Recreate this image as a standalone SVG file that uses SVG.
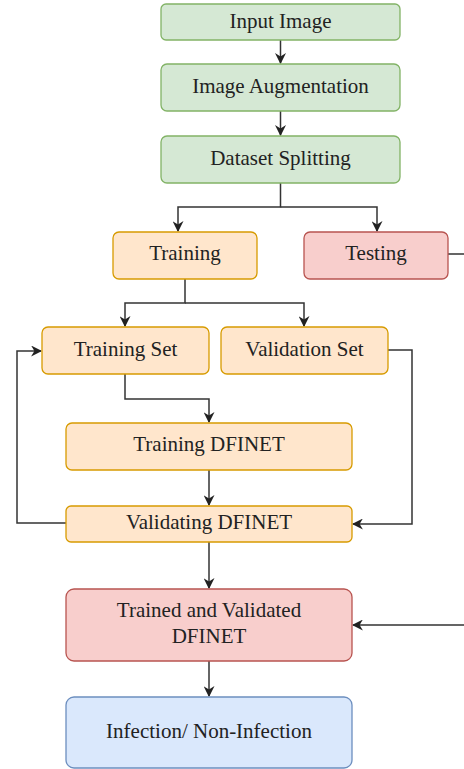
<svg xmlns="http://www.w3.org/2000/svg" width="464" height="769" viewBox="0 0 464 769">
<style>
.n rect{stroke-width:1.3}
.g rect{fill:#d5e8d4;stroke:#82b366}
.o rect{fill:#ffe6cc;stroke:#d79b00}
.r rect{fill:#f8cecc;stroke:#b85450}
.b rect{fill:#dae8fc;stroke:#6c8ebf}
text{font-family:"Liberation Serif","Times New Roman",serif;font-size:21px;fill:#222;text-anchor:middle}
#connectors path{fill:none;stroke:#333;stroke-width:1.5}
</style>
<defs>
<marker id="ah" viewBox="0 0 10 10" refX="9" refY="5" markerWidth="11" markerHeight="11" markerUnits="userSpaceOnUse" orient="auto">
<path d="M0,0 L10,5 L0,10 L3,5 z" fill="#222"/>
</marker>
</defs>
<rect width="464" height="769" fill="#fff"/>
<g id="connectors">
<path d="M280.5,40 V63" marker-end="url(#ah)"/>
<path d="M280.5,111 V135" marker-end="url(#ah)"/>
<path d="M280.5,183 V207 H178 V231" marker-end="url(#ah)"/>
<path d="M280.5,207 H377 V231" marker-end="url(#ah)"/>
<path d="M185,279 V303 H125 V326" marker-end="url(#ah)"/>
<path d="M185,303 H304 V326" marker-end="url(#ah)"/>
<path d="M125,374 V399 H209 V422" marker-end="url(#ah)"/>
<path d="M209,470 V505" marker-end="url(#ah)"/>
<path d="M66,523 H17 V351 H41" marker-end="url(#ah)"/>
<path d="M388,350 H412 V524 H353" marker-end="url(#ah)"/>
<path d="M209,542 V588" marker-end="url(#ah)"/>
<path d="M448,254 H470 V625 H353" marker-end="url(#ah)"/>
<path d="M209,661 V696" marker-end="url(#ah)"/>
</g>
<g id="input" class="n g"><rect x="161" y="4" width="239" height="36" rx="5"/><text x="280.5" y="28">Input Image</text></g>
<g id="augment" class="n g"><rect x="161" y="64" width="239" height="47" rx="6"/><text x="280.5" y="93">Image Augmentation</text></g>
<g id="split" class="n g"><rect x="161" y="136" width="239" height="47" rx="6"/><text x="280.5" y="165">Dataset Splitting</text></g>
<g id="training" class="n o"><rect x="113" y="232" width="144" height="47" rx="6"/><text x="185" y="260">Training</text></g>
<g id="testing" class="n r"><rect x="304" y="232" width="144" height="47" rx="6"/><text x="376" y="260">Testing</text></g>
<g id="trainset" class="n o"><rect x="42" y="327" width="167" height="47" rx="6"/><text x="125.5" y="356">Training Set</text></g>
<g id="valset" class="n o"><rect x="221" y="327" width="167" height="47" rx="6"/><text x="304.5" y="356">Validation Set</text></g>
<g id="traindfinet" class="n o"><rect x="66" y="423" width="286" height="47" rx="6"/><text x="209" y="451">Training DFINET</text></g>
<g id="valdfinet" class="n o"><rect x="66" y="506" width="286" height="36" rx="5"/><text x="209" y="529">Validating DFINET</text></g>
<g id="trained" class="n r"><rect x="66" y="589" width="286" height="72" rx="8"/><text x="209" y="617">Trained and Validated</text><text x="209" y="643">DFINET</text></g>
<g id="result" class="n b"><rect x="66" y="697" width="286" height="71" rx="8"/><text x="209" y="738">Infection/ Non-Infection</text></g>
</svg>
